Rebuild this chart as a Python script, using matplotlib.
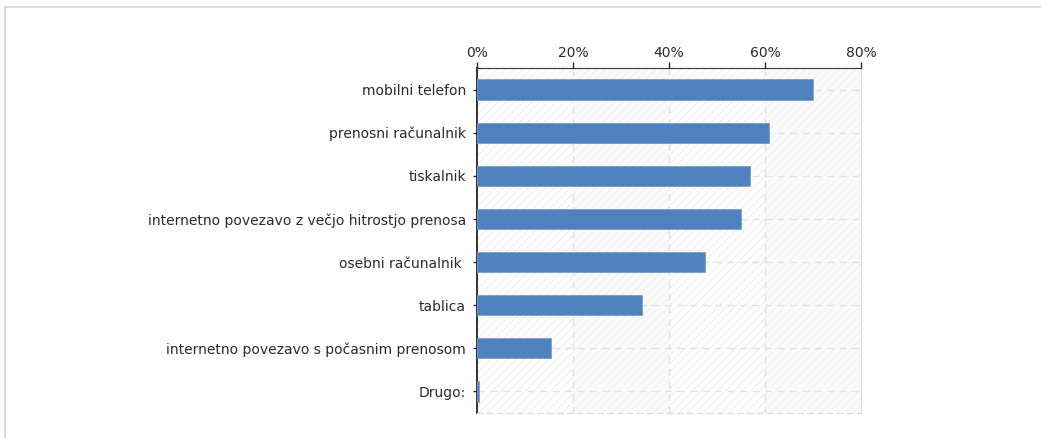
import matplotlib.pyplot as plt
from matplotlib.patches import Rectangle
from matplotlib.ticker import FuncFormatter

# categories and shares (percent), top to bottom
categories = [
    "mobilni telefon",
    "prenosni računalnik",
    "tiskalnik",
    "internetno povezavo z večjo hitrostjo prenosa",
    "osebni računalnik ",
    "tablica",
    "internetno povezavo s počasnim prenosom",
    "Drugo:",
]
values = [70.0, 60.8, 56.8, 54.9, 47.4, 34.3, 15.4, 0.4]
x_ticks = [0, 20, 40, 60, 80]

plt.rcParams['font.family'] = ['DejaVu Sans']
plt.rcParams['hatch.linewidth'] = 0.8

fig = plt.figure(figsize=(10.41, 4.38), dpi=100)
ax = fig.add_axes([477 / 1041, 1 - 413 / 438, 384 / 1041, 345 / 438])

# outer frame lines (top and left)
fig.add_artist(plt.Line2D([5 / 1041, 1], [1 - 7 / 438] * 2, color='#dcdcdc', lw=1.5))
fig.add_artist(plt.Line2D([5 / 1041] * 2, [0, 1 - 7 / 438], color='#dcdcdc', lw=1.5))

# plot background: light hatch with faint alternating bands
ax.add_patch(Rectangle((0, -0.5), 80, 8, facecolor='white', edgecolor='#ededed',
                       hatch='////', lw=0, zorder=0))
for x0 in (20, 60):
    ax.add_patch(Rectangle((x0, -0.5), 20, 8, facecolor='#f7f7f7', alpha=0.6,
                           lw=0, zorder=0.5))

pos = list(range(len(categories)))
ax.barh(pos, values, height=0.47, color='#4f81bd', edgecolor='#7aa0d0', lw=0.6, zorder=3)

ax.set_xlim(0, 80)
ax.set_ylim(len(categories) - 0.5, -0.5)
ax.set_yticks(pos)
ax.set_yticklabels(categories)
ax.set_xticks(x_ticks)
ax.xaxis.set_major_formatter(FuncFormatter(lambda v, p: f"{v:.0f}%"))
ax.xaxis.tick_top()

for x in x_ticks[1:-1]:
    ax.axvline(x, color='#e2e2e2', lw=1, ls=(0, (5, 4)), zorder=1)
for y in pos:
    ax.axhline(y, color='#e2e2e2', lw=1, ls=(0, (5, 4)), zorder=1)

ax.tick_params(axis='x', length=4, width=1, colors='#2b2b2b', labelsize=10, pad=2)
ax.tick_params(axis='y', length=3, width=1, colors='#2b2b2b', labelsize=10, pad=5)

ax.spines['top'].set_color('#333333')
ax.spines['left'].set_color('#111111')
ax.spines['left'].set_linewidth(1.2)
ax.spines['right'].set_color('#dcdcdc')
ax.spines['bottom'].set_color('#dcdcdc')
ax.spines['bottom'].set_linestyle((0, (5, 4)))

fig.savefig('out.png', dpi=100)
